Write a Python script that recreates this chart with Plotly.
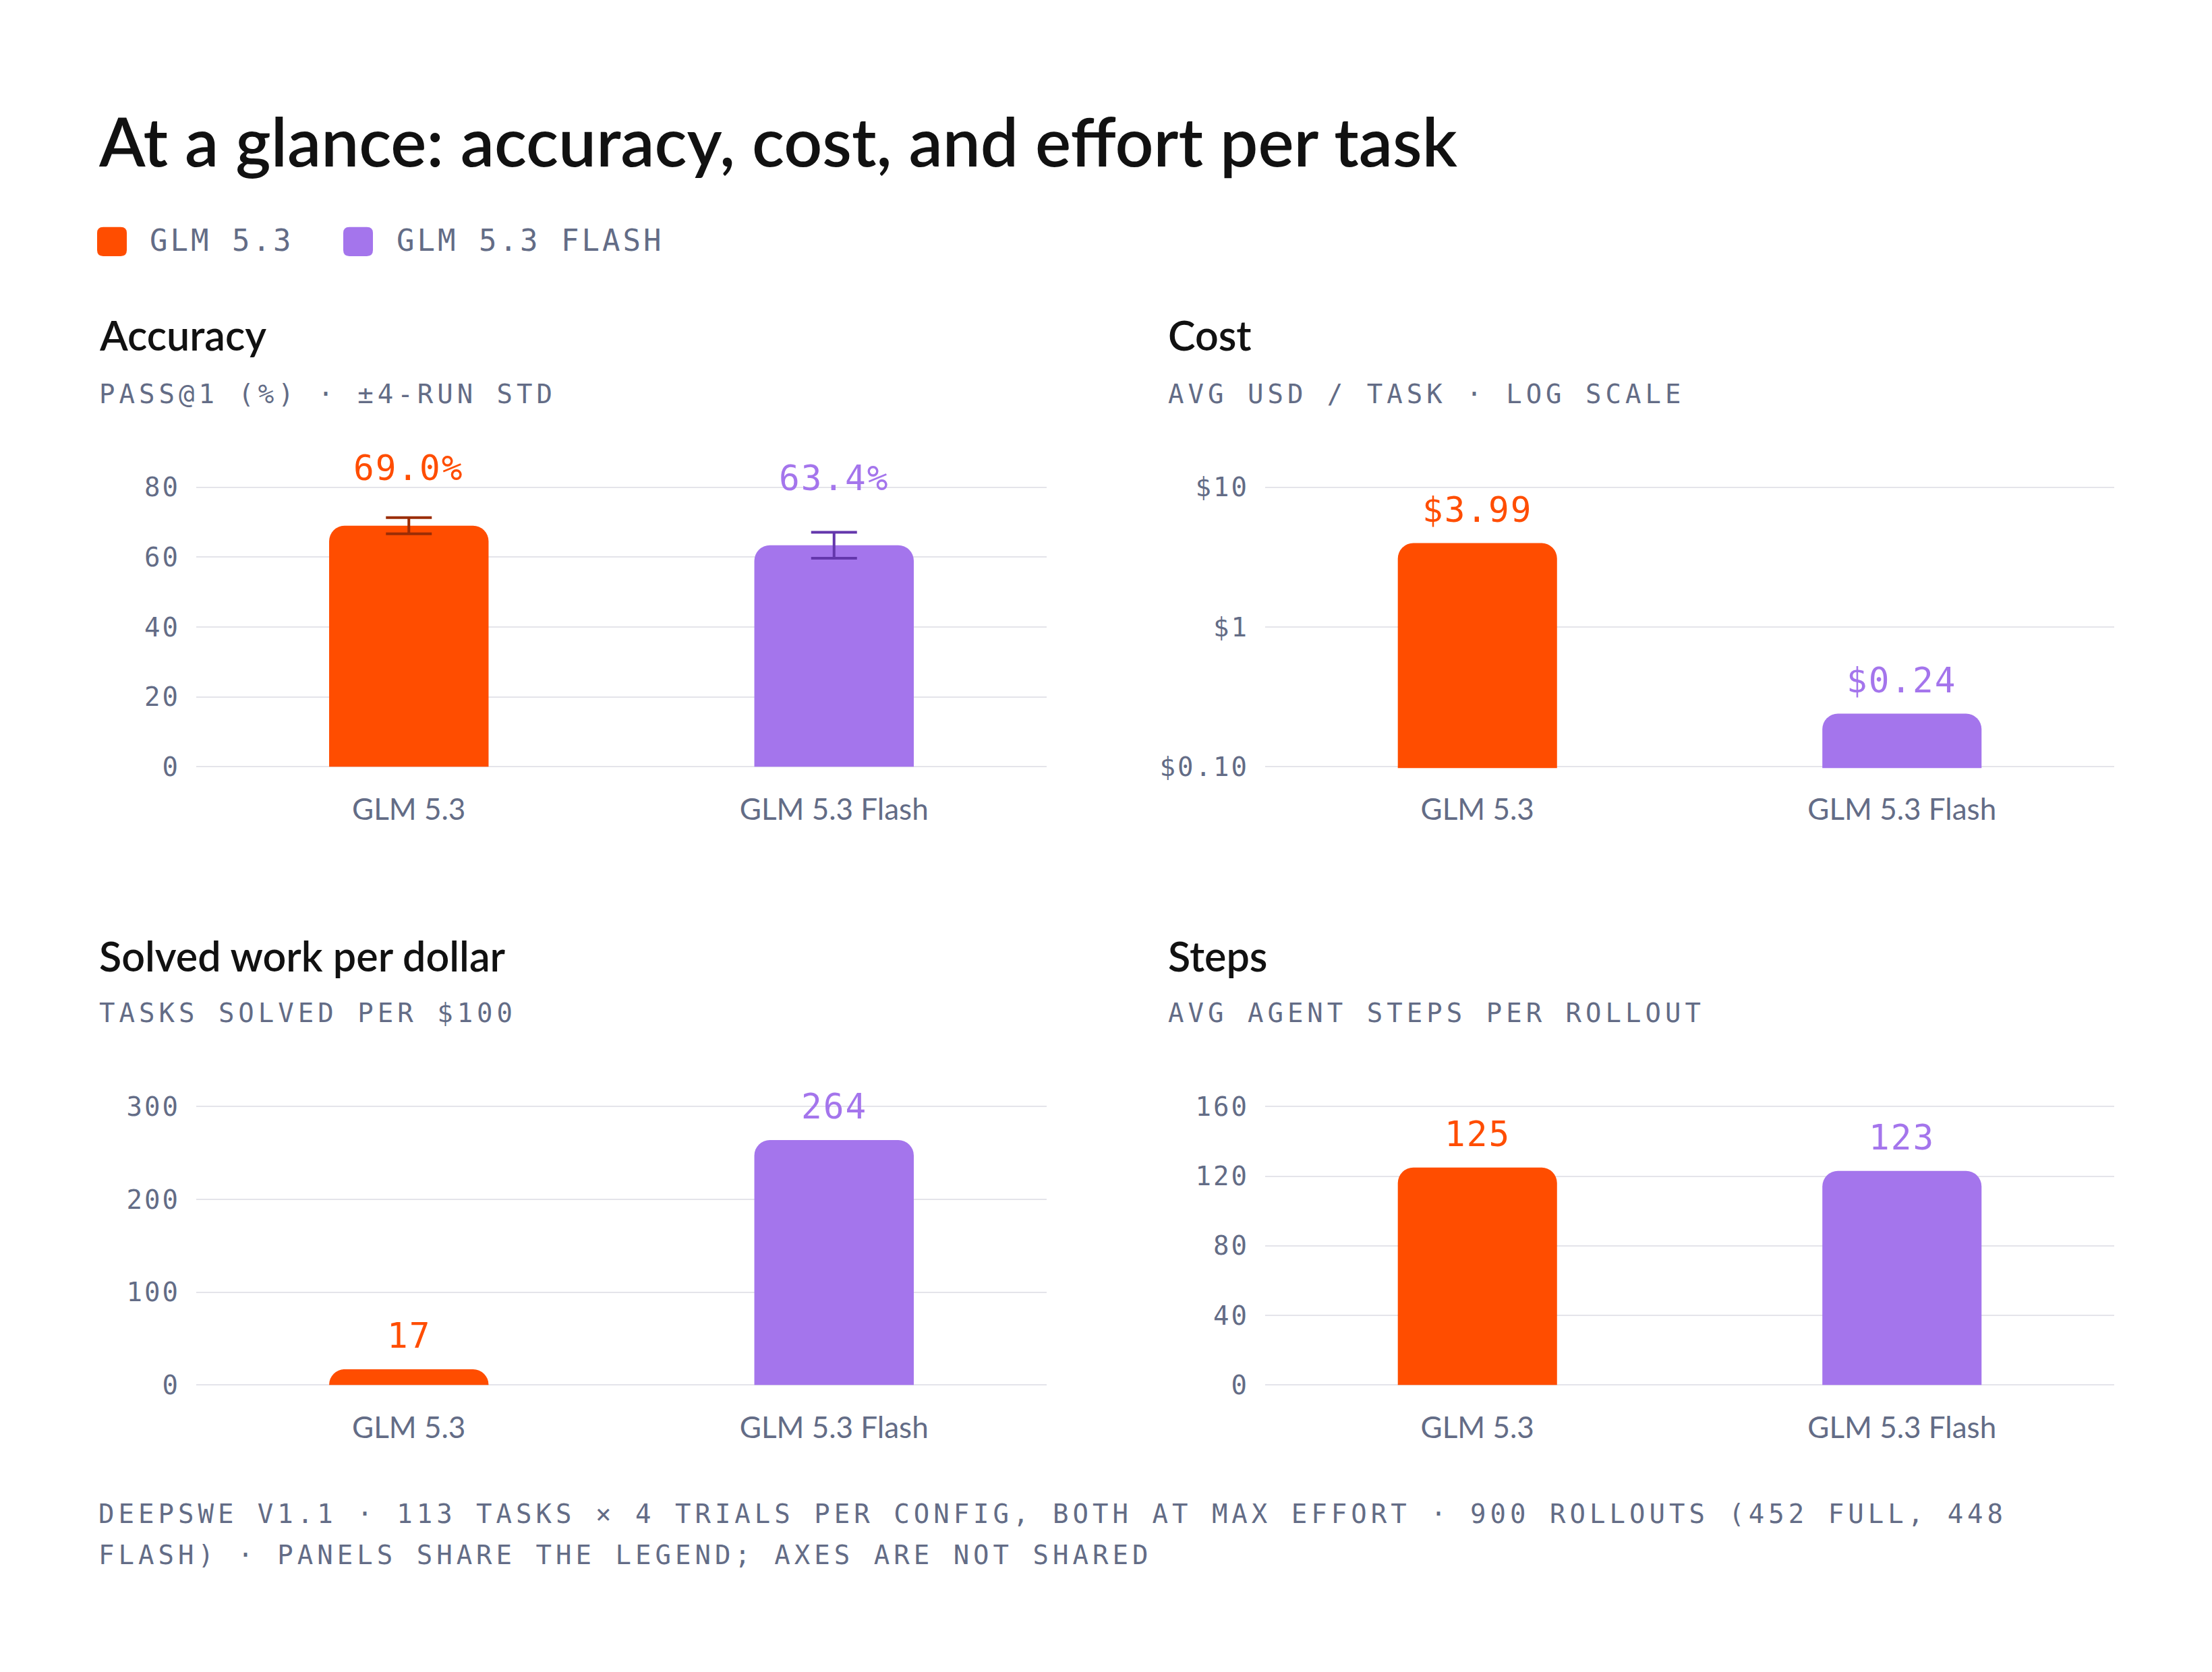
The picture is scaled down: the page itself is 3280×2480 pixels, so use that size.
import numpy as np
import plotly.graph_objects as go

# --- data ---
models = ["GLM 5.3", "GLM 5.3 Flash"]
legend_names = ["GLM 5.3", "GLM 5.3 FLASH"]
accuracy = [69.0, 63.4]
accuracy_std = [2.3, 3.7]
cost_usd = [3.99, 0.24]
solved_per_100 = [17, 264]
agent_steps = [125, 123]

acc_ticks = [0, 20, 40, 60, 80]
cost_ticks = [0.1, 1, 10]
cost_ticktext = ["$0.10", "$1", "$10"]
solved_ticks = [0, 100, 200, 300]
steps_ticks = [0, 40, 80, 120, 160]

# --- style ---
W, H = 3280, 2480
ORANGE, PURPLE = "#FF4D00", "#A475EC"
ERR_COLORS = ["#9A2D06", "#6437AC"]
COLORS = [ORANGE, PURPLE]
GRAY = "#636C86"
GRID = "#E4E4EA"
INK = "#111111"
SANS = "Lato, Inter, sans-serif"
MONO = "DejaVu Sans Mono, monospace"
PAD = 0.005  # small range padding so the end gridlines are drawn


def fx(px):
    return px / W


def fy(px):
    return 1 - px / H


def spaced(text, px):
    return f'<span style="letter-spacing:{px}px">{text}</span>'


fig = go.Figure()

# pixel boxes of the four plot areas, plus title/subtitle rows
cols = [(291, 1552), (1876, 3135)]
rows = [(714.6, 1136), (1648.6, 2068.5)]
title_y = [484.6, 1420.6]
sub_y = [573.6, 1507.6]

panels = [
    dict(values=accuracy, err=accuracy_std, ticks=acc_ticks,
         ticktext=[str(t) for t in acc_ticks],
         rng=[0, 80], log=False, labels=[f"{v:.1f}%" for v in accuracy],
         title="Accuracy", sub="PASS@1 (%) · ±4-RUN STD"),
    dict(values=cost_usd, err=None, ticks=cost_ticks, ticktext=cost_ticktext,
         rng=[-1, 1], log=True, labels=[f"${v:.2f}" for v in cost_usd],
         title="Cost", sub="AVG USD / TASK · LOG SCALE"),
    dict(values=solved_per_100, err=None, ticks=solved_ticks,
         ticktext=[str(t) for t in solved_ticks],
         rng=[0, 300], log=False, labels=[str(v) for v in solved_per_100],
         title="Solved work per dollar", sub="TASKS SOLVED PER $100"),
    dict(values=agent_steps, err=None, ticks=steps_ticks,
         ticktext=[str(t) for t in steps_ticks],
         rng=[0, 160], log=False, labels=[str(v) for v in agent_steps],
         title="Steps", sub="AVG AGENT STEPS PER ROLLOUT"),
]

annotations = []
for i, p in enumerate(panels):
    n = i + 1
    sfx = "" if n == 1 else str(n)
    xref, yref = f"x{sfx}", f"y{sfx}"
    (x0, x1) = cols[i % 2]
    (y0, y1) = rows[i // 2]

    for j, m in enumerate(models):
        err = None
        if p["err"] is not None:
            err = dict(type="data", array=[p["err"][j]], color=ERR_COLORS[j],
                       thickness=4, width=34, visible=True)
        fig.add_trace(go.Bar(
            x=[m], y=[p["values"][j]], width=0.375,
            marker=dict(color=COLORS[j], cornerradius=23, line=dict(width=0)),
            error_y=err, xaxis=xref, yaxis=yref, showlegend=False,
            hoverinfo="skip",
        ))
        # value label sits above the bar (and clears the error bar)
        top = p["values"][j] + (2 * p["err"][j] if p["err"] else 0)
        ay = np.log10(top) if p["log"] else top
        annotations.append(dict(
            x=m, y=ay, xref=xref, yref=yref, text=spaced(p["labels"][j], 2),
            showarrow=False, xanchor="center", yanchor="middle",
            yshift=61 if p["err"] else 49,
            font=dict(family=MONO, size=51, color=COLORS[j]),
        ))

    lo, hi = p["rng"]
    span = hi - lo
    hpx = y1 - y0
    ax = dict(domain=[fx(x0), fx(x1)], anchor=yref, showgrid=False,
              zeroline=False, showline=False, ticks="",
              tickfont=dict(family=SANS, size=44, color=GRAY),
              ticklabelstandoff=32, fixedrange=True,
              categoryorder="array", categoryarray=models, range=[-0.5, 1.5])
    ay_ = dict(domain=[fy(y1 + PAD * hpx), fy(y0 - PAD * hpx)], anchor=xref,
               range=[lo - PAD * span, hi + PAD * span],
               type="log" if p["log"] else "linear",
               tickvals=p["ticks"],
               ticktext=[spaced(t, 3) for t in p["ticktext"]],
               showgrid=True, gridcolor=GRID,
               gridwidth=2, zeroline=False, showline=False, ticks="",
               tickfont=dict(family=MONO, size=39, color=GRAY),
               ticklabelstandoff=23, fixedrange=True)
    fig.update_layout({f"xaxis{sfx}": ax, f"yaxis{sfx}": ay_})

    # panel title + subtitle
    tx = x0 - 146
    annotations.append(dict(
        x=fx(tx), y=fy(title_y[i // 2]), xref="paper", yref="paper",
        text=p["title"], showarrow=False, xanchor="left", yanchor="middle",
        font=dict(family=SANS, size=61, color=INK, weight=600),
    ))
    annotations.append(dict(
        x=fx(tx), y=fy(sub_y[i // 2]), xref="paper", yref="paper",
        text=spaced(p["sub"], 6), showarrow=False, xanchor="left",
        yanchor="middle", font=dict(family=MONO, size=39, color=GRAY),
    ))

# main title
annotations.append(dict(
    x=fx(144), y=fy(191), xref="paper", yref="paper",
    text="At a glance: accuracy, cost, and effort per task",
    showarrow=False, xanchor="left", yanchor="middle",
    font=dict(family=SANS, size=100, color=INK, weight=600),
))

# legend chips
shapes = []
chip_x = [144, 509]
text_x = [220, 586]
r = 9
for k, name in enumerate(legend_names):
    a, b = chip_x[k], chip_x[k] + 44
    t, btm = 322, 366
    path = (f"M {fx(a + r)} {fy(t)} L {fx(b - r)} {fy(t)} "
            f"Q {fx(b)} {fy(t)} {fx(b)} {fy(t + r)} L {fx(b)} {fy(btm - r)} "
            f"Q {fx(b)} {fy(btm)} {fx(b - r)} {fy(btm)} L {fx(a + r)} {fy(btm)} "
            f"Q {fx(a)} {fy(btm)} {fx(a)} {fy(btm - r)} L {fx(a)} {fy(t + r)} "
            f"Q {fx(a)} {fy(t)} {fx(a + r)} {fy(t)} Z")
    shapes.append(dict(type="path", xref="paper", yref="paper", path=path,
                       fillcolor=COLORS[k], line=dict(width=0)))
    annotations.append(dict(
        x=fx(text_x[k]), y=fy(342), xref="paper", yref="paper",
        text=spaced(name, 4), showarrow=False, xanchor="left",
        yanchor="middle", font=dict(family=MONO, size=44, color=GRAY),
    ))

# footer
footer = [
    "DEEPSWE V1.1 · 113 TASKS × 4 TRIALS PER CONFIG, BOTH AT MAX EFFORT · 900 ROLLOUTS (452 FULL, 448",
    "FLASH) · PANELS SHARE THE LEGEND; AXES ARE NOT SHARED",
]
for k, line in enumerate(footer):
    annotations.append(dict(
        x=fx(144), y=fy(2263 + 62 * k), xref="paper", yref="paper",
        text=spaced(line, 6), showarrow=False, xanchor="left",
        yanchor="middle", font=dict(family=MONO, size=39, color=GRAY),
    ))

fig.update_layout(
    width=W, height=H, margin=dict(l=0, r=0, t=0, b=0),
    paper_bgcolor="white", plot_bgcolor="white",
    barmode="overlay", showlegend=False,
    annotations=annotations, shapes=shapes,
)

fig.write_html("out.html", config={"displayModeBar": False},
               post_script="document.body.style.margin='0';")
